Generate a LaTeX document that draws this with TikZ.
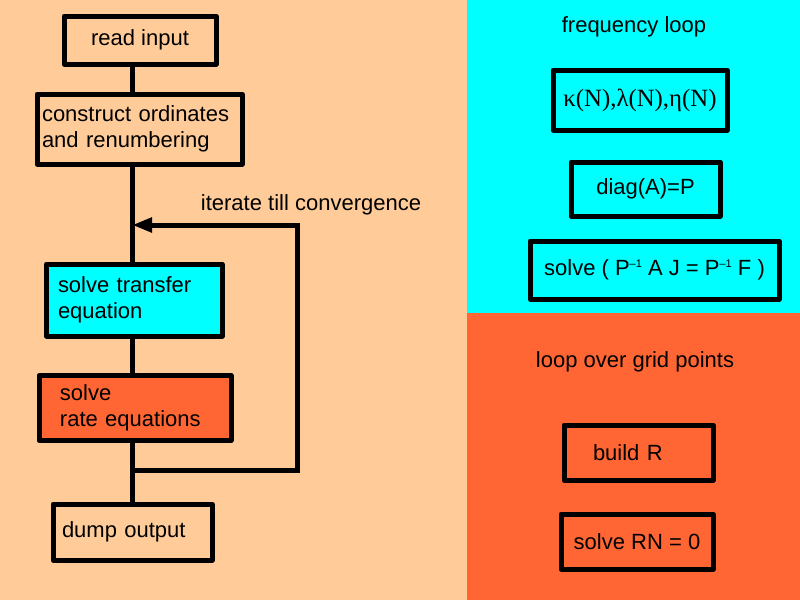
\documentclass[tikz,border=0pt]{standalone}
\usepackage{fontspec}
\setmainfont{Liberation Sans}
\newfontfamily\serifgr{Liberation Serif}
\usetikzlibrary{arrows.meta}
\definecolor{peach}{HTML}{FFCC99}
\definecolor{aqua}{HTML}{00FFFF}
\definecolor{tomato}{HTML}{FF6633}
\newcommand{\pinv}{P\raisebox{0.75ex}{\fontsize{5.5}{6}\selectfont –1}}
\begin{document}
\begin{tikzpicture}[x=0.5pt,y=-0.5pt, font=\fontsize{11}{13}\selectfont,
  box/.style={draw, line width=2.5pt, line join=round, inner sep=0pt},
  lbox/.style={box, align=left},
  conn/.style={line width=2.5pt}]
\useasboundingbox (0,0) rectangle (800,600);
\fill[peach] (0,0) rectangle (467,600);
\fill[aqua] (467,0) rectangle (800,313);
\fill[tomato] (467,313) rectangle (800,600);

% left flow chart
\node[box, fill=peach, minimum width=76pt, minimum height=24pt] (rd) at (140,40) {read input};
\node[lbox, fill=peach, minimum height=35pt, text width=97.5pt, inner xsep=2.5pt] (cons) at (139.5,129) {construct ordinates\\and renumbering};
\node[lbox, fill=aqua, minimum height=36pt, text width=76.25pt, inner xsep=5.75pt] (trans) at (134.25,300) {solve transfer\\equation};
\node[lbox, fill=tomato, minimum height=32.5pt, text width=75pt, inner xsep=10.5pt] (rate) at (135,408) {solve\\rate equations};
\node[lbox, fill=peach, minimum height=28pt, text width=70.5pt, inner xsep=4.5pt] (dump) at (132.5,532) {dump output};
\node (iter) at (311,205) {iterate till convergence};

\coordinate (sp) at (132,0);
\coordinate (lb) at (132,470);
\coordinate (lr) at (297,470);
\coordinate (lt) at (297,225);
\coordinate (ltl) at (132,225);
\draw[conn] (rd.south -| sp) -- (cons.north -| sp);
\draw[conn] (cons.south -| sp) -- (trans.north -| sp);
\draw[conn] (trans.south -| sp) -- (rate.north -| sp);
\draw[conn] (rate.south -| sp) -- (dump.north -| sp);
\draw[conn, -{Triangle[length=10pt,width=7pt]}] (lb) -- (lr) -- (lt) -- (ltl);

% right: frequency loop
\node (freq) at (634,27) {frequency loop};
\node[box, fill=aqua, minimum width=87pt, minimum height=30pt] (kap) at (640,100) {\serifgr\fontsize{12.4}{14}\selectfont κ(N),λ(N),η(N)};
\node[box, fill=aqua, minimum width=74.5pt, minimum height=27pt] (diag) at (645.5,189) {diag(A)=P};
\node[box, fill=aqua, minimum width=124.5pt, minimum height=29pt] (slv) at (654.5,270) {solve ( \pinv\ A J = \pinv\ F )};

% right: grid loop
\node (grid) at (635,362) {loop over grid points};
\node[lbox, fill=tomato, minimum height=27.5pt, text width=45.5pt, inner xsep=14.5pt] (bR) at (638.5,452.5) {build R};
\node[box, fill=tomato, minimum width=76pt, minimum height=27.5pt] (sRN) at (637,541.5) {solve RN = 0};
\end{tikzpicture}
\end{document}
